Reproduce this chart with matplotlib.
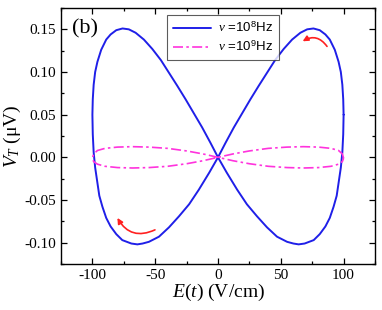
import matplotlib
matplotlib.use("Agg")
import matplotlib.pyplot as plt
from matplotlib.ticker import MultipleLocator, FormatStrFormatter

plt.rcParams['font.family'] = ['Liberation Serif', 'DejaVu Serif']
plt.rcParams['mathtext.fontset'] = 'custom'
plt.rcParams['mathtext.rm'] = 'Liberation Serif'
plt.rcParams['mathtext.it'] = 'Liberation Serif:italic'
plt.rcParams['mathtext.sf'] = 'Liberation Sans'
plt.rcParams['axes.unicode_minus'] = False

# nu = 1e8 Hz curve (closed loop)
e_1e8 = [100, 99.7, 99.0, 97.8, 96.0, 93.0, 89.0, 85.5, 81.0, 76.0, 71.0, 65.6, 59.0, 52.3, 45.5, 39.0, 32.5,
         25.8, 19.0, 12.6, 6.0, 0.0,
         -7.0, -15.3, -23.0, -31.0, -39.0, -47.0, -55.0, -60.0, -64.2, -69.0, -76.2, -81.0, -85.5, -89.0,
         -92.0, -94.5, -96.0, -97.8, -99.0, -99.7, -100.0,
         -99.7, -99.0, -97.8, -96.0, -93.0, -89.0, -85.5, -81.0, -76.0, -71.0, -65.6, -59.0, -52.3, -45.5,
         -39.0, -32.5, -25.8, -19.0, -12.6, -6.0, 0.0,
         7.0, 15.3, 23.0, 31.0, 39.0, 47.0, 55.0, 60.0, 64.2, 69.0, 76.2, 81.0, 85.5, 89.0,
         92.0, 94.5, 96.0, 97.8, 99.0, 99.7, 100]
v_1e8 = [0.050, 0.068, 0.085, 0.100, 0.112, 0.126, 0.138, 0.144, 0.149, 0.151, 0.150, 0.146, 0.138, 0.127,
         0.114, 0.099, 0.084, 0.068, 0.051, 0.035, 0.017, 0.0,
         -0.018, -0.038, -0.055, -0.069, -0.082, -0.093, -0.099, -0.101, -0.102, -0.101, -0.097, -0.090,
         -0.081, -0.071, -0.058, -0.045, -0.030, -0.012, 0.006, 0.027, 0.050,
         0.068, 0.085, 0.100, 0.112, 0.126, 0.138, 0.144, 0.149, 0.151, 0.150, 0.146, 0.138, 0.127,
         0.114, 0.099, 0.084, 0.068, 0.051, 0.035, 0.017, 0.0,
         -0.018, -0.038, -0.055, -0.069, -0.082, -0.093, -0.099, -0.101, -0.102, -0.101, -0.097, -0.090,
         -0.081, -0.071, -0.058, -0.045, -0.030, -0.012, 0.006, 0.027, 0.050]

# nu = 1e9 Hz curve
e_1e9 = [100, 99.0, 96.0, 90.0, 80.0, 68.0, 55.0, 40.0, 25.0, 12.0, 0.0,
         -12.0, -25.0, -40.0, -55.0, -68.0, -80.0, -90.0, -96.0, -99.0, -100,
         -99.0, -96.0, -90.0, -80.0, -68.0, -55.0, -40.0, -25.0, -12.0, 0.0,
         12.0, 25.0, 40.0, 55.0, 68.0, 80.0, 90.0, 96.0, 99.0, 100]
v_1e9 = [-0.001, 0.004, 0.008, 0.0105, 0.012, 0.0125, 0.012, 0.0105, 0.0075, 0.004, 0.0,
         -0.004, -0.0075, -0.0105, -0.012, -0.0125, -0.012, -0.0105, -0.008, -0.005, -0.001,
         0.004, 0.008, 0.0105, 0.012, 0.0125, 0.012, 0.0105, 0.0075, 0.004, 0.0,
         -0.004, -0.0075, -0.0105, -0.012, -0.0125, -0.012, -0.0105, -0.008, -0.005, -0.001]

# direction arrows (tail, head)
arrow_tails = [(86.8, 0.130), (-50.2, -0.085)]
arrow_heads = [(67.4, 0.136), (-80.1, -0.071)]
arrow_bends = [0.45, -0.45]

labels = [r'$\nu$ =10$^{\mathsf{8}}$Hz', r'$\nu$ =10$^{\mathsf{9}}$Hz']

fig = plt.figure(figsize=(3.82, 3.10), dpi=100)
ax = fig.add_axes([61/382, 1-264/310, (375-61)/382, (264-8)/310])

ax.plot(e_1e8, v_1e8, color='#1f1fe8', lw=1.4, label=labels[0],
        solid_capstyle='round', solid_joinstyle='round')
ax.plot(e_1e9, v_1e9, color='#ff33dd', lw=1.2, ls=(0, (6, 2, 1.5, 2)), label=labels[1])

for t, h, b in zip(arrow_tails, arrow_heads, arrow_bends):
    ax.annotate('', xy=h, xytext=t,
                arrowprops=dict(arrowstyle='-|>', color='#ff2020', lw=1.2,
                                mutation_scale=8, shrinkA=0, shrinkB=0,
                                connectionstyle=f'arc3,rad={b}'))

ax.set_xlim(-125, 125)
ax.set_ylim(-0.125, 0.175)
ax.xaxis.set_major_locator(MultipleLocator(50))
ax.xaxis.set_minor_locator(MultipleLocator(25))
ax.yaxis.set_major_locator(MultipleLocator(0.05))
ax.yaxis.set_minor_locator(MultipleLocator(0.025))
ax.yaxis.set_major_formatter(FormatStrFormatter('%.2f'))
ax.tick_params(which='both', direction='in', top=True, right=True, labelsize=11, width=0.9)
ax.tick_params(which='major', length=4.5)
ax.tick_params(which='minor', length=2.5)
for s in ax.spines.values():
    s.set_linewidth(1.0)

ax.set_xlabel(r'$E$($t$) (V/cm)', fontsize=14, labelpad=0)
ax.set_ylabel(r'$V_{T}$ (μV)', fontsize=14, labelpad=1)

ax.text(0.035, 0.955, '(b)', transform=ax.transAxes, fontsize=16, va='top', ha='left')

leg = ax.legend(loc='upper left', bbox_to_anchor=(0.337, 0.973), borderaxespad=0,
                prop={'family': 'Liberation Sans', 'size': 9.5}, frameon=True, fancybox=False,
                edgecolor='#333333', handlelength=2.9, handletextpad=0.5, borderpad=0.45,
                labelspacing=0.35)
leg.get_frame().set_linewidth(0.8)

fig.savefig('out.png', dpi=100)
